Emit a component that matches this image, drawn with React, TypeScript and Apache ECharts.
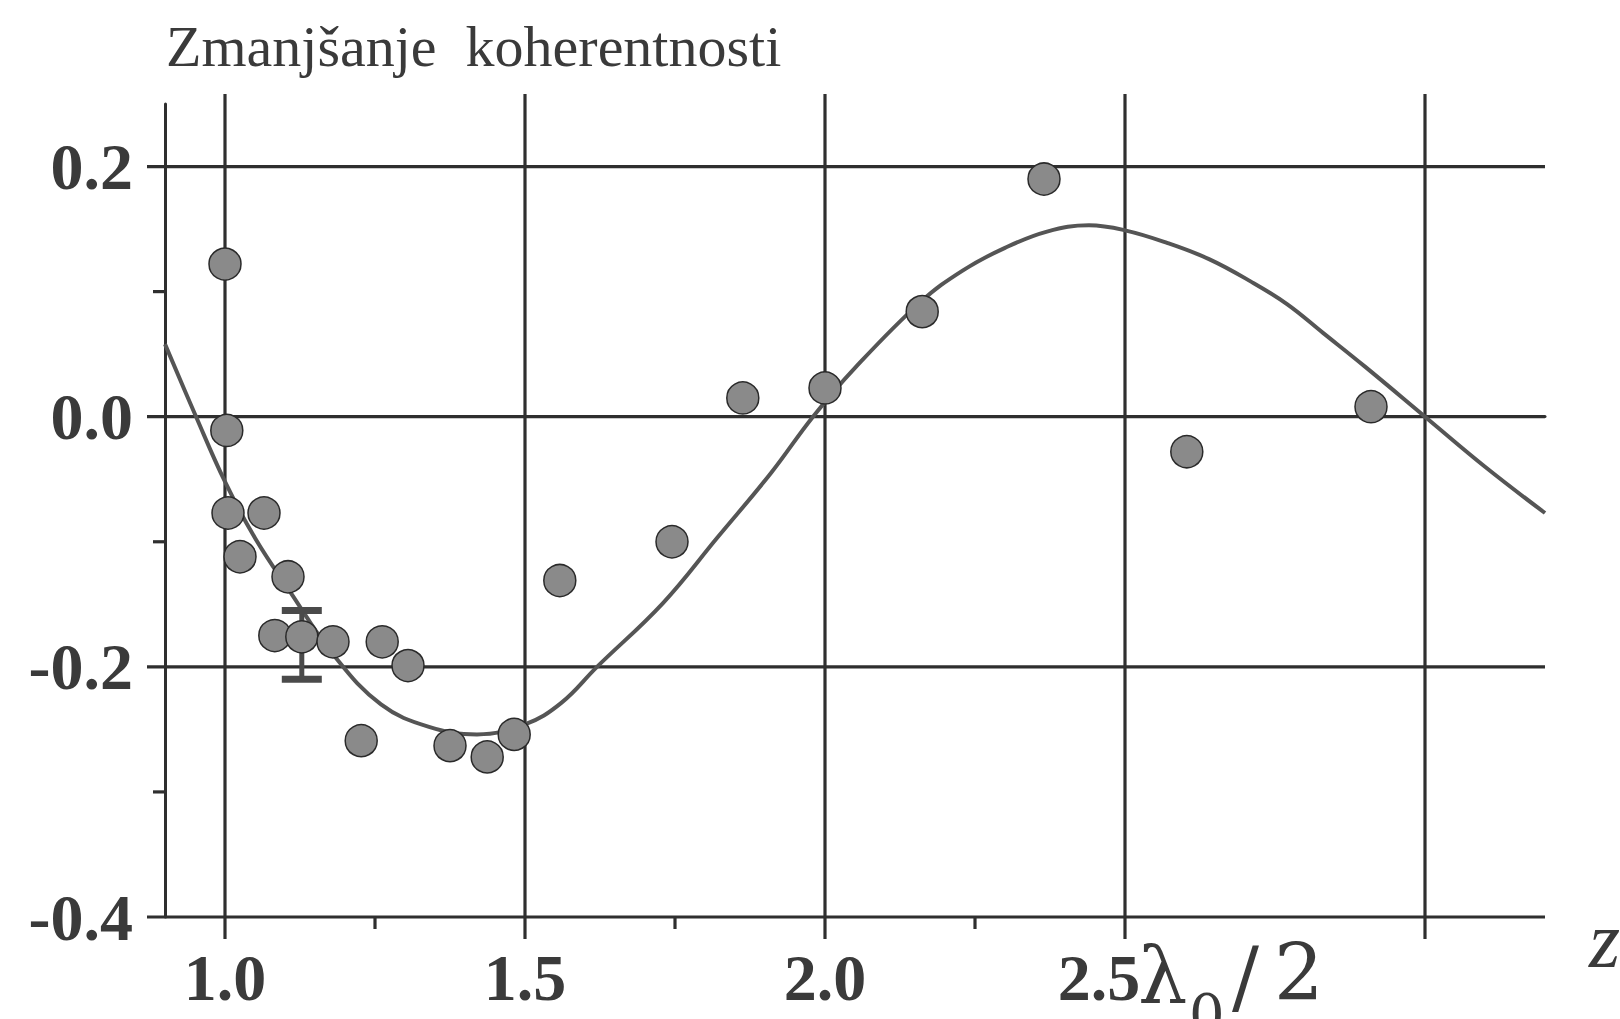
import React, { useEffect, useRef } from "react";
import * as echarts from "echarts";

// ---- data ----
const curveX = [0.9, 0.95, 1.0, 1.05, 1.11, 1.18, 1.26, 1.34, 1.42, 1.5, 1.56, 1.62, 1.73, 1.82, 1.91, 1.98, 2.05, 2.16, 2.23, 2.3, 2.37, 2.44, 2.5, 2.57, 2.64, 2.71, 2.77, 2.83, 2.9, 3.0, 3.1, 3.2];
const curveY = [0.058, 0.002, -0.052, -0.097, -0.141, -0.19, -0.23, -0.248, -0.254, -0.246, -0.229, -0.2, -0.149, -0.097, -0.045, 0.0, 0.039, 0.092, 0.117, 0.135, 0.148, 0.153, 0.149, 0.139, 0.126, 0.108, 0.09, 0.067, 0.04, 0.0, -0.04, -0.077];

const pointX = [1.0, 1.003, 1.005, 1.065, 1.025, 1.105, 1.083, 1.128, 1.18, 1.262, 1.305, 1.227, 1.375, 1.437, 1.482, 1.558, 1.745, 1.863, 2.0, 2.162, 2.365, 2.603, 2.91];
const pointY = [0.122, -0.011, -0.077, -0.077, -0.112, -0.128, -0.175, -0.176, -0.18, -0.18, -0.199, -0.259, -0.263, -0.272, -0.254, -0.131, -0.1, 0.015, 0.023, 0.084, 0.19, -0.028, 0.008];

const errX = [1.128];
const errLow = [-0.21];
const errHigh = [-0.155];

const xGrid = [1.0, 1.5, 2.0, 2.5, 3.0];
const yGrid = [0.2, 0.0, -0.2, -0.4];
const xMinorTicks = [1.25, 1.75, 2.25];
const yMinorTicks = [0.1, -0.1, -0.3];

const xLabelValues = [1.0, 1.5, 2.0, 2.5];
const yLabelValues = [-0.4, -0.2, 0.0, 0.2];

const titleText = "Zmanjšanje  koherentnosti";

const X_MIN = 0.9;
const X_MAX = 3.2;
const Y_MIN = -0.4;
const Y_MAX = 0.25;

export default function App() {
  const ref = useRef<HTMLDivElement>(null);

  useEffect(() => {
    if (!ref.current) return;
    const chart = echarts.init(ref.current, undefined, { renderer: "svg" });
    const ink = "#2f2f2f";
    const textInk = "#3a3a3a";
    const labelFont = {
      fontFamily: "Liberation Serif",
      fontWeight: "bold" as const,
      fontSize: 66,
      color: textInk,
    };

    const gridData: number[][] = [];
    xGrid.forEach((v) => gridData.push([v, 0]));
    yGrid.forEach((v) => gridData.push([v, 1]));
    xMinorTicks.forEach((v) => gridData.push([v, 2]));
    yMinorTicks.forEach((v) => gridData.push([v, 3]));

    const mathFont = "DejaVu Serif";

    const option: any = {
      animation: false,
      backgroundColor: "#ffffff",
      grid: { left: 165, right: 75, top: 104, bottom: 102, containLabel: false },
      xAxis: {
        type: "value",
        min: X_MIN,
        max: X_MAX,
        axisLine: { show: true, lineStyle: { color: ink, width: 3 } },
        axisTick: { show: false },
        splitLine: { show: false },
        axisLabel: {
          ...labelFont,
          margin: 27,
          customValues: xLabelValues,
          formatter: (v: number) => (Math.abs(v - 2.5) < 1e-9 ? "{s|2.5}" : v.toFixed(1)),
          rich: {
            s: { ...labelFont, padding: [0, 52, 0, 0] },
          },
        },
      },
      yAxis: {
        type: "value",
        min: Y_MIN,
        max: Y_MAX,
        interval: 0.2,
        axisLine: { show: true, lineStyle: { color: ink, width: 3 } },
        axisTick: { show: false },
        splitLine: { show: false },
        axisLabel: {
          ...labelFont,
          margin: 32,
          customValues: yLabelValues,
          formatter: (v: number) => v.toFixed(1),
        },
      },
      graphic: [
        {
          type: "text",
          left: 166,
          top: 17,
          style: {
            text: titleText,
            fontFamily: "Liberation Serif",
            fontSize: 58,
            fill: textInk,
          },
        },
        {
          type: "text",
          x: 1138,
          y: 937,
          style: { text: "λ", fontFamily: mathFont, fontSize: 78, fill: textInk, verticalAlign: "top" },
        },
        {
          type: "text",
          x: 1189,
          y: 986,
          style: { text: "0", fontFamily: mathFont, fontSize: 56, fill: textInk, verticalAlign: "top" },
        },
        {
          type: "text",
          x: 1232,
          y: 937,
          style: { text: "/", fontFamily: mathFont, fontSize: 80, fill: textInk, verticalAlign: "top" },
        },
        {
          type: "text",
          x: 1274,
          y: 934,
          style: { text: "2", fontFamily: mathFont, fontSize: 78, fill: textInk, verticalAlign: "top" },
        },
        {
          type: "text",
          x: 1589,
          y: 900,
          style: { text: "z", fontFamily: "Liberation Serif", fontStyle: "italic", fontSize: 80, fill: textInk, verticalAlign: "top" },
        },
      ],
      series: [
        {
          type: "custom",
          name: "grid",
          silent: true,
          clip: false,
          z: 1,
          data: gridData,
          renderItem: (params: any, api: any) => {
            const v = api.value(0);
            const k = api.value(1);
            let x1 = 0, y1 = 0, x2 = 0, y2 = 0;
            if (k === 0) {
              const t = api.coord([v, Y_MAX + 0.008]);
              const b = api.coord([v, Y_MIN]);
              x1 = t[0]; y1 = t[1]; x2 = b[0]; y2 = b[1] + 22;
            } else if (k === 1) {
              const l = api.coord([X_MIN, v]);
              const r = api.coord([X_MAX, v]);
              x1 = l[0] - 18; y1 = l[1]; x2 = r[0]; y2 = r[1];
            } else if (k === 2) {
              const p = api.coord([v, Y_MIN]);
              x1 = p[0]; y1 = p[1]; x2 = p[0]; y2 = p[1] + 12;
            } else {
              const p = api.coord([X_MIN, v]);
              x1 = p[0] - 12; y1 = p[1]; x2 = p[0]; y2 = p[1];
            }
            return {
              type: "line",
              shape: { x1, y1, x2, y2 },
              style: { stroke: ink, lineWidth: 3.2 },
            };
          },
        },
        {
          type: "line",
          name: "fit",
          z: 3,
          smooth: 0.4,
          showSymbol: false,
          symbol: "none",
          data: curveX.map((x, i) => [x, curveY[i]]),
          lineStyle: { color: "#555555", width: 4 },
        },
        {
          type: "custom",
          name: "error",
          z: 4,
          clip: false,
          data: errX.map((x, i) => [x, errLow[i], errHigh[i]]),
          renderItem: (params: any, api: any) => {
            const x = api.value(0);
            const lo = api.coord([x, api.value(1)]);
            const hi = api.coord([x, api.value(2)]);
            const hw = 20;
            const col = "#4a4a4a";
            return {
              type: "group",
              children: [
                { type: "line", shape: { x1: lo[0], y1: lo[1], x2: hi[0], y2: hi[1] }, style: { stroke: col, lineWidth: 5 } },
                { type: "line", shape: { x1: lo[0] - hw, y1: lo[1], x2: lo[0] + hw, y2: lo[1] }, style: { stroke: col, lineWidth: 7 } },
                { type: "line", shape: { x1: hi[0] - hw, y1: hi[1], x2: hi[0] + hw, y2: hi[1] }, style: { stroke: col, lineWidth: 7 } },
              ],
            };
          },
        },
        {
          type: "scatter",
          name: "measured",
          z: 5,
          symbol: "circle",
          symbolSize: 32,
          data: pointX.map((x, i) => [x, pointY[i]]),
          itemStyle: { color: "#8a8a8a", borderColor: "#2a2a2a", borderWidth: 1.5, opacity: 1 },
        },
      ],
    };

    chart.setOption(option);
    return () => chart.dispose();
  }, []);

  return (
    <div
      ref={ref}
      style={{ position: "fixed", left: 0, top: 0, width: 1620, height: 1019, background: "#ffffff" }}
    />
  );
}
